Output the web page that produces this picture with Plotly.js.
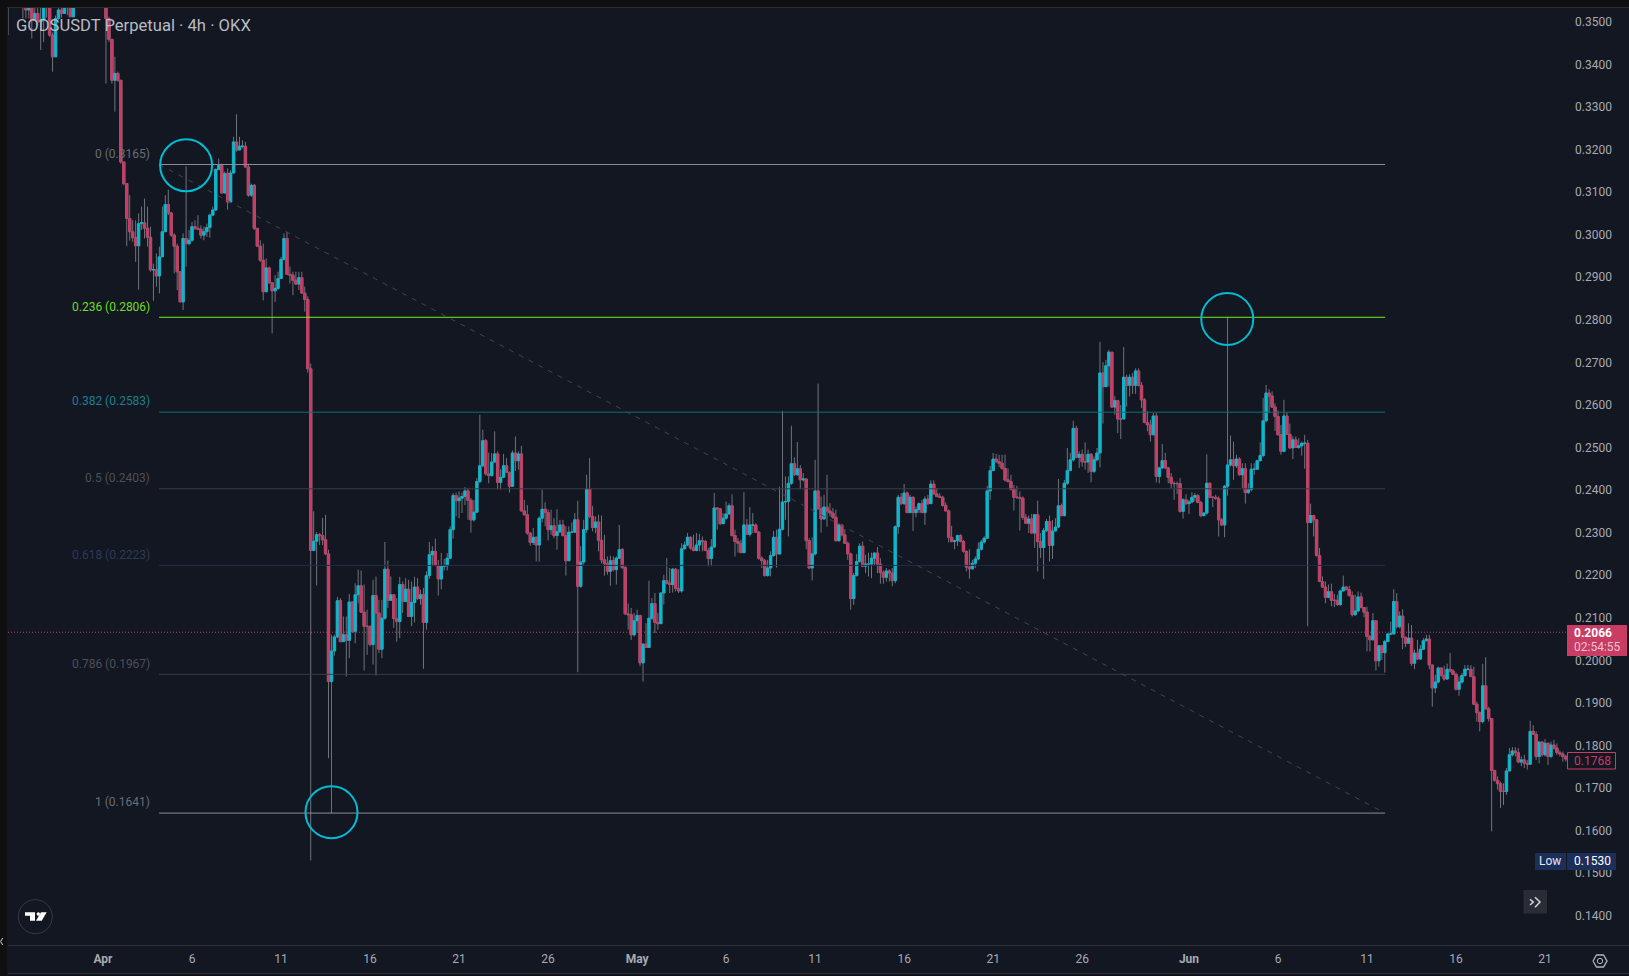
<!DOCTYPE html>
<html><head><meta charset="utf-8">
<script src="https://cdn.plot.ly/plotly-3.0.1.min.js"></script>
<style>html,body{margin:0;padding:0;background:#0f0f0f;overflow:hidden}#chart{width:1629px;height:976px}</style>
</head><body><div id="chart"></div>
<script>
// Candle numbers: 0 = 1 April 00:00, one candle every 4 hours
const firstCandle = -32;
const firstOpen = .3590;
const closes = [
.3600,.3650,.3660,.3640,.3600,.3560,.3528,.3545,.3504,.3520,.3500,.3504,.3560,.3545,.3469,.3418,.3508,.3528,.3520,.3560,.3570,.3512,.3600,
.3640,.3660,.3680,.3700,.3720,.3740,.3730,.3700,.3680,.3640,
.3508,.3459,.3363,.3379,.3363,.3171,.3120,.3038,.3007,.2993,.2974,.3026,.3028,.3015,.2994,.2917,.2918,.2903,.2948,.3007,
.3071,.3051,.2999,.2973,.2913,.2842,.2991,.2979,.2987,.3019,.3015,.3013,.2999,.3007,.3017,.3046,.3058,.3153,.3163,.3098,
.3144,.3077,.3145,.3218,.3199,.3208,.3208,.3159,.3093,.3116,.3015,.2973,.2940,.2866,.2922,.2887,.2868,.2874,.2897,.2942,
.2991,.2907,.2905,.2893,.2884,.2899,.2863,.2848,.2685,
.2258,.2280,.2295,.2293,.2283,.2250,.1950,.2022,.2055,.2140,.2044,.2060,.2047,.2137,.2068,.2154,.2175,.2113,.2080,.2080,
.2037,.2152,.2111,.2026,.2099,.2214,.2141,.2154,.2098,.2091,.2178,.2138,.2167,.2103,.2136,.2172,.2145,.2154,.2089,.2199,
.2248,.2256,.2223,.2191,.2221,.2222,.2240,.2307,.2387,.2375,.2381,.2385,.2398,.2376,.2330,.2348,.2420,.2457,.2516,.2438,
.2434,.2466,.2485,.2418,.2430,.2457,.2441,.2409,.2487,.2469,.2485,.2351,.2342,.2299,.2277,.2289,.2271,.2334,.2355,.2347,
.2307,.2316,.2293,.2302,.2318,.2293,.2234,.2301,.2301,.2330,.2174,.2231,.2307,.2402,.2338,.2312,.2325,.2282,.2236,.2227,
.2209,.2234,.2213,.2240,.2260,.2218,.2109,.2107,.2060,.2093,.2105,.1994,.2038,.2030,.2099,.2133,.2089,.2086,.2158,.2187,
.2181,.2178,.2214,.2169,.2163,.2262,.2271,.2289,.2264,.2258,.2271,
.2281,.2279,.2258,.2239,.2266,.2358,.2356,.2321,.2334,.2344,.2363,.2293,.2279,.2275,.2253,.2318,.2296,.2318,.2318,.2301,
.2240,.2234,.2199,.2217,.2246,.2289,.2250,.2308,.2372,.2373,.2416,.2462,.2436,.2450,.2424,.2426,.2281,.2217,.2250,.2398,
.2356,.2332,.2360,.2351,.2346,.2336,.2281,.2318,.2295,.2275,.2250,.2145,.2199,.2232,.2268,.2221,.2226,.2226,.2240,.2252,
.2226,.2206,.2195,.2210,.2205,.2187,.2314,.2383,.2368,.2393,.2347,.2383,.2347,.2354,.2368,.2347,.2379,.2368,.2414,.2391,
.2385,.2383,.2364,.2351,.2289,.2279,.2281,.2293,.2279,.2256,.2219,.2215,.2228,.2238,.2261,.2278,.2287,.2398,.2446,.2473,
.2467,.2463,.2451,.2424,.2420,.2402,.2383,.2383,.2381,.2336,.2322,.2332,.2299,.2342,.2279,.2265,.2305,.2326,.2270,.2304,
.2313,.2363,.2340,.2416,.2446,.2471,.2545,.2477,.2484,.2466,.2466,.2484,.2444,.2471,.2487,
.2675,.2643,.2692,.2724,.2595,.2610,.2567,.2567,.2665,.2646,.2665,.2646,.2680,.2646,.2612,.2559,.2553,.2530,.2574,.2432,
.2452,.2469,.2452,.2430,.2416,.2415,.2415,.2350,.2377,.2368,.2372,.2383,.2387,.2371,.2340,.2346,.2416,.2383,.2383,.2380,
.2330,.2318,.2409,.2459,.2471,.2457,.2473,.2436,.2450,.2394,.2401,.2449,.2449,.2469,.2481,.2563,.2628,.2621,.2595,.2573,
.2530,.2491,.2574,.2531,.2499,.2518,.2500,.2504,.2510,.2510,.2324,.2340,.2330,.2246,.2185,.2172,.2148,.2161,.2141,.2141,
.2131,.2163,.2172,.2166,.2152,.2107,.2116,.2149,
.2124,.2113,.2056,.2048,.2093,.1999,.2034,.2018,.2044,.2062,.2062,.2138,.2079,.2104,.2054,.2040,.2052,.1993,.2017,.2003,
.2026,.2046,.2050,.1989,.1935,.1949,.1982,.1964,.1956,.1979,.1975,.1967,.1932,.1949,.1964,.1979,.1979,.1962,.1897,.1877,
.1856,.1940,.1886,.1863,.1741,.1718,.1710,.1692,.1692,.1740,.1778,.1787,.1783,.1761,.1766,.1758,.1756,.1833,.1826,.1774,
.1808,.1778,.1805,.1774,.1801,.1794,.1783,.1780,.1774,.1768
];
const highs = [
.3680,.3700,.3720,.3700,.3660,.3620,.3590,.3590,.3560,.3560,.3540,.3540,.3600,.3600,.3560,.3475,.3515,.3560,.3560,.3600,.3610,.3600,.3640,
.3680,.3700,.3720,.3750,.3770,.3790,.3780,.3760,.3730,.3700,
.3650,.3512,.3459,.3418,.3383,.3363,.3171,.3120,.3093,.3034,.3034,.3050,.3066,.3085,.3066,.3019,.2932,.2956,.2972,.3066,
.3093,.3106,.3054,.3003,.2979,.2913,.3003,.3161,.3011,.3030,.3034,.3046,.3022,.3019,.3026,.3050,.3066,.3156,.3179,.3167,
.3148,.3156,.3152,.3230,.3283,.3230,.3222,.3218,.3167,.3120,.3119,.3015,.2987,.2979,.2944,.2925,.2889,.2905,.2913,.2948,
.3003,.3007,.2925,.2913,.2913,.2913,.2913,.2878,.2855,
.2697,.2350,.2301,.2299,.2334,.2342,.2260,.2060,.2060,.2149,.2146,.2103,.2103,.2156,.2138,.2181,.2213,.2211,.2178,.2119,
.2081,.2189,.2197,.2142,.2142,.2278,.2234,.2197,.2154,.2146,.2196,.2185,.2193,.2189,.2185,.2196,.2193,.2166,.2170,.2209,
.2278,.2268,.2286,.2236,.2252,.2238,.2252,.2315,.2393,.2394,.2397,.2394,.2407,.2405,.2381,.2377,.2428,.2577,.2542,.2520,
.2488,.2487,.2538,.2491,.2449,.2485,.2475,.2444,.2493,.2526,.2491,.2504,.2377,.2365,.2301,.2311,.2291,.2338,.2401,.2371,
.2355,.2354,.2334,.2355,.2330,.2330,.2315,.2315,.2324,.2346,.2375,.2268,.2330,.2436,.2475,.2363,.2338,.2342,.2340,.2295,
.2244,.2246,.2244,.2244,.2318,.2264,.2224,.2133,.2123,.2111,.2119,.2107,.2040,.2087,.2187,.2146,.2158,.2111,.2160,.2201,
.2240,.2217,.2217,.2217,.2214,.2275,.2279,.2299,.2291,.2295,.2299,
.2297,.2291,.2283,.2264,.2285,.2393,.2360,.2358,.2346,.2373,.2369,.2390,.2307,.2287,.2283,.2395,.2332,.2360,.2346,.2322,
.2304,.2244,.2238,.2236,.2256,.2304,.2307,.2408,.2586,.2432,.2432,.2551,.2477,.2513,.2459,.2440,.2428,.2287,.2289,.2471,
.2650,.2385,.2389,.2436,.2369,.2358,.2354,.2322,.2318,.2308,.2279,.2253,.2205,.2250,.2275,.2279,.2248,.2253,.2253,.2253,
.2266,.2240,.2211,.2217,.2214,.2217,.2317,.2389,.2393,.2414,.2397,.2389,.2385,.2361,.2371,.2377,.2385,.2389,.2423,.2423,
.2405,.2393,.2387,.2371,.2354,.2316,.2283,.2295,.2296,.2283,.2258,.2261,.2236,.2244,.2277,.2283,.2291,.2410,.2457,.2487,
.2485,.2483,.2483,.2483,.2451,.2436,.2412,.2410,.2397,.2385,.2344,.2340,.2344,.2344,.2375,.2299,.2311,.2332,.2340,.2330,
.2334,.2426,.2368,.2424,.2499,.2487,.2563,.2551,.2491,.2495,.2512,.2495,.2487,.2479,.2499,
.2748,.2701,.2706,.2730,.2724,.2621,.2612,.2600,.2736,.2671,.2672,.2675,.2686,.2686,.2654,.2616,.2585,.2565,.2581,.2581,
.2455,.2508,.2487,.2454,.2440,.2420,.2420,.2428,.2381,.2390,.2377,.2395,.2393,.2391,.2375,.2347,.2484,.2418,.2385,.2389,
.2385,.2334,.2412,.2806,.2528,.2514,.2483,.2477,.2463,.2463,.2416,.2463,.2463,.2471,.2512,.2616,.2647,.2637,.2632,.2604,
.2587,.2553,.2612,.2582,.2556,.2526,.2526,.2522,.2514,.2530,.2518,.2368,.2342,.2332,.2264,.2197,.2185,.2178,.2180,.2156,
.2154,.2166,.2199,.2175,.2175,.2162,.2154,.2162,
.2159,.2124,.2126,.2060,.2111,.2095,.2036,.2036,.2048,.2064,.2091,.2167,.2158,.2115,.2120,.2056,.2087,.2083,.2025,.2048,
.2036,.2052,.2060,.2060,.1989,.1966,.1985,.1982,.1987,.1992,.2017,.1979,.1971,.1962,.1970,.1989,.1989,.1989,.1985,.1903,
.1880,.1992,.2007,.1891,.1864,.1743,.1727,.1715,.1711,.1747,.1794,.1796,.1796,.1794,.1774,.1778,.1766,.1858,.1848,.1833,
.1809,.1809,.1815,.1807,.1809,.1813,.1805,.1788,.1786,.1778
];
const lows = [
.3469,.3590,.3620,.3590,.3555,.3508,.3508,.3508,.3461,.3504,.3492,.3434,.3453,.3510,.3465,.3383,.3418,.3505,.3510,.3520,.3516,.3512,.3512,
.3590,.3620,.3640,.3660,.3680,.3700,.3690,.3660,.3640,.3600,
.3355,.3453,.3355,.3289,.3359,.3167,.3116,.2973,.2986,.2983,.2936,.2871,.3011,.2991,.2972,.2913,.2845,.2878,.2862,.3003,
.3062,.3046,.2995,.2909,.2870,.2842,.2823,.2925,.2975,.2983,.3011,.3011,.2991,.2987,.2995,.2993,.3046,.3056,.3152,.3097,
.3097,.3059,.3075,.3144,.3195,.3199,.3203,.3158,.3089,.3089,.3011,.2972,.2936,.2846,.2866,.2885,.2768,.2842,.2870,.2897,
.2940,.2905,.2885,.2858,.2882,.2870,.2862,.2819,.2676,
.1530,.2258,.2176,.2271,.2271,.2248,.1770,.1641,.2011,.2052,.2042,.2044,.1962,.2005,.2064,.2040,.2134,.2111,.1976,.2013,
.2033,.1990,.1964,.2017,.2005,.2095,.2123,.2142,.2076,.2044,.2052,.2111,.2138,.2102,.2080,.2089,.2142,.2131,.1980,.2072,
.2191,.2221,.2221,.2152,.2167,.2211,.2211,.2238,.2286,.2338,.2334,.2346,.2365,.2330,.2300,.2326,.2346,.2416,.2454,.2434,
.2416,.2432,.2463,.2402,.2401,.2428,.2440,.2394,.2407,.2445,.2448,.2350,.2340,.2295,.2269,.2271,.2232,.2232,.2324,.2315,
.2282,.2295,.2287,.2260,.2299,.2291,.2199,.2236,.2299,.2299,.1972,.2170,.2225,.2299,.2334,.2303,.2299,.2256,.2228,.2199,
.2201,.2175,.2209,.2178,.2238,.2214,.2107,.2072,.2048,.2056,.2064,.1986,.1950,.2029,.2030,.2095,.2064,.2072,.2087,.2131,
.2178,.2158,.2159,.2162,.2158,.2159,.2260,.2268,.2260,.2256,.2256,
.2256,.2256,.2256,.2221,.2221,.2264,.2307,.2318,.2321,.2330,.2342,.2291,.2244,.2253,.2252,.2252,.2295,.2291,.2299,.2299,
.2236,.2217,.2197,.2197,.2197,.2244,.2218,.2248,.2305,.2330,.2291,.2412,.2433,.2434,.2402,.2420,.2261,.2214,.2188,.2246,
.2354,.2300,.2332,.2314,.2338,.2332,.2279,.2279,.2291,.2274,.2236,.2119,.2130,.2197,.2230,.2219,.2205,.2197,.2193,.2224,
.2205,.2180,.2180,.2185,.2185,.2174,.2181,.2297,.2365,.2365,.2346,.2346,.2304,.2336,.2346,.2346,.2318,.2365,.2368,.2389,
.2383,.2381,.2361,.2350,.2277,.2277,.2261,.2269,.2277,.2253,.2209,.2192,.2213,.2217,.2235,.2258,.2274,.2285,.2377,.2444,
.2463,.2454,.2448,.2420,.2418,.2399,.2352,.2379,.2305,.2330,.2321,.2299,.2297,.2264,.2209,.2240,.2191,.2301,.2232,.2238,
.2303,.2311,.2338,.2338,.2412,.2444,.2467,.2475,.2452,.2455,.2448,.2440,.2418,.2440,.2467,
.2453,.2556,.2642,.2643,.2593,.2577,.2534,.2520,.2567,.2596,.2620,.2626,.2626,.2643,.2593,.2557,.2538,.2514,.2528,.2418,
.2416,.2450,.2450,.2416,.2405,.2377,.2391,.2347,.2333,.2365,.2344,.2369,.2373,.2369,.2336,.2338,.2342,.2381,.2360,.2377,
.2291,.2316,.2289,.2387,.2455,.2424,.2452,.2434,.2405,.2368,.2391,.2397,.2436,.2448,.2467,.2477,.2559,.2581,.2593,.2539,
.2528,.2483,.2489,.2530,.2497,.2473,.2499,.2497,.2481,.2450,.2080,.2322,.2291,.2244,.2184,.2170,.2134,.2146,.2127,.2125,
.2128,.2128,.2162,.2164,.2150,.2103,.2105,.2113,
.2122,.2101,.2021,.2021,.2048,.1976,.1985,.2001,.1971,.2043,.2060,.2060,.2075,.2075,.2026,.2031,.2039,.1987,.1979,.2001,
.2001,.2025,.2044,.1979,.1891,.1923,.1945,.1962,.1952,.1954,.1971,.1966,.1929,.1917,.1945,.1962,.1976,.1960,.1895,.1856,
.1833,.1852,.1884,.1856,.1598,.1715,.1696,.1653,.1660,.1684,.1739,.1774,.1774,.1758,.1751,.1747,.1743,.1754,.1825,.1766,
.1758,.1774,.1774,.1754,.1770,.1790,.1778,.1774,.1762,.1762
];
const tickCandles = [0,30,60,90,120,150,180,210,240,270,300,330,366,396,426,456,486];
const tickLabels = ['<b>Apr</b>','6','11','16','21','26','<b>May</b>','6','11','16','21','26','<b>Jun</b>','6','11','16','21'];
const priceTicks = [.14,.15,.16,.17,.18,.19,.20,.21,.22,.23,.24,.25,.26,.27,.28,.29,.30,.31,.32,.33,.34,.35];
const fibLevels = [.3165,.2806,.2583,.2403,.2223,.1967,.1641];
const fibLabels = ['0 (0.3165)','0.236 (0.2806)','0.382 (0.2583)','0.5 (0.2403)','0.618 (0.2223)','0.786 (0.1967)','1 (0.1641)'];
const fibLine = ['#8b8e96','#76ee22','#0b6e78','#3b3e46','#1f2d4a','#3b3e46','#8b8e96'];
const fibText = ['#696c75','#6fdc26','#1f7f8c','#4c4f57','#2e3b55','#4c4f57','#696c75'];
const fibStart = 18.9, fibEnd = 432.1;
const circleCandles = [28,378.9,77];
const circlePrices = [.3163,.2802,.1643];
const lastPrice = .2066, lastClose = .1768, lowPrice = .1530;

const UP = '#00bcd4', DOWN = '#c93c64', WICK = '#70737c', BG = '#131722', EDGE = '#0f0f0f', LINE = '#2a2e39';
const px = x => (x - 8) / 1559, py = y => (946 - y) / 938;
const candles = closes.map((_, i) => firstCandle + i);
const opens = closes.map((_, i) => i ? closes[i - 1] : firstOpen);
const bodyHigh = closes.map((c, i) => Math.max(c, opens[i]));
const bodyLow = closes.map((c, i) => Math.min(c, opens[i]));

const wickTrace = {type:'candlestick', x:candles, open:opens, high:highs, low:lows, close:closes,
  increasing:{line:{color:WICK,width:1},fillcolor:WICK}, decreasing:{line:{color:WICK,width:1},fillcolor:WICK},
  hoverinfo:'skip', showlegend:false};
const bodyTrace = {type:'candlestick', x:candles, open:opens, high:bodyHigh, low:bodyLow, close:closes,
  increasing:{line:{color:UP,width:.6},fillcolor:UP}, decreasing:{line:{color:DOWN,width:.6},fillcolor:DOWN},
  hoverinfo:'skip', showlegend:false};

const rectP = (x0,y0,x1,y1,fill,stroke) => ({type:'rect',xref:'paper',yref:'paper',x0:px(x0),x1:px(x1),y0:py(y0),y1:py(y1),
  fillcolor:fill,line:{color:stroke||fill,width:stroke?1:0},layer:'above'});
const lineP = (pts,color,w) => ({type:'path',xref:'paper',yref:'paper',layer:'above',line:{color:color,width:w||1},
  path:pts.map((p,i)=>(i?'L':'M')+px(p[0])+' '+py(p[1])).join(' ')});
const polyP = (pts,fill) => ({type:'path',xref:'paper',yref:'paper',layer:'above',fillcolor:fill,line:{width:0},
  path:pts.map((p,i)=>(i?'L':'M')+px(p[0])+' '+py(p[1])).join(' ')+' Z'});
const circP = (cx,cy,r,stroke,fill) => ({type:'circle',xref:'paper',yref:'paper',layer:'above',x0:px(cx-r),x1:px(cx+r),y0:py(cy-r),y1:py(cy+r),
  line:{color:stroke,width:stroke==='rgba(0,0,0,0)'?0:1},fillcolor:fill||'rgba(0,0,0,0)'});

const shapes = [];
fibLevels.forEach((lv,i)=>shapes.push({type:'line',xref:'x',yref:'y',x0:fibStart,x1:fibEnd,y0:lv,y1:lv,line:{color:fibLine[i],width:1},layer:'above'}));
shapes.push({type:'line',xref:'x',yref:'y',x0:fibStart,x1:fibEnd,y0:fibLevels[0],y1:fibLevels[6],line:{color:'#42454f',width:1,dash:'5px,6px'},layer:'above'});
shapes.push({type:'line',xref:'paper',yref:'y',x0:0,x1:1,y0:lastPrice,y1:lastPrice,line:{color:DOWN,width:1,dash:'1px,2px'},layer:'below'});
circleCandles.forEach((c,i)=>shapes.push({type:'circle',xref:'x',yref:'y',xsizemode:'pixel',ysizemode:'pixel',xanchor:c,yanchor:circlePrices[i],x0:-26,x1:26,y0:-26,y1:26,line:{color:UP,width:2},layer:'above'}));
shapes.push(rectP(0,0,1629,7,EDGE), rectP(0,0,7,976,EDGE), rectP(0,975,1629,976,EDGE));
shapes.push(lineP([[7,7.5],[1629,7.5]],'#2b2b2b'), lineP([[8,945.5],[1629,945.5]],LINE), lineP([[8,973.5],[1629,973.5]],LINE));
shapes.push(lineP([[2.7,938],[0.6,941.5],[2.7,945]],'#d1d4dc'));
shapes.push(rectP(1567,625,1627,656,DOWN));
shapes.push(rectP(1567.5,752.5,1615.5,769,BG,DOWN));
shapes.push(rectP(1535,853,1566,870,'#1c2e5a'), rectP(1567,853,1616,870,'#1c2e5a'));
shapes.push(rectP(1523.5,890,1547,913.5,'#2a2d35'));
shapes.push(lineP([[1530,899.3],[1533.3,902],[1530,905]],'#d1d4dc',1.5), lineP([[1535,897.3],[1540,902],[1535,907.3]],'#d1d4dc',1.5));
shapes.push(lineP([[1593,961],[1596.5,955],[1603.5,955],[1607,961],[1603.5,967],[1596.5,967],[1593,961]],'#b2b5be',1.3), circP(1600,961,2.7,'#b2b5be'));
shapes.push(circP(35.3,916.7,17,'#363a45'));
shapes.push(polyP([[25,912.3],[35,912.3],[35,920.7],[30,920.7],[30,915.7],[25,915.7]],'#ffffff'), circP(38.3,914,1.7,'rgba(0,0,0,0)','#ffffff'), polyP([[46.7,912.3],[41.7,920.7],[36,920.7],[41,912.3]],'#ffffff'));

const ann = (x,y,text,size,color,anchor,extra) => Object.assign({xref:'paper',yref:'paper',x:px(x),y:py(y),text,showarrow:false,xanchor:anchor||'center',yanchor:'middle',
  font:{family:'Roboto, Arial, sans-serif',size,color},borderpad:0},extra||{});
const annotations = [];
fibLabels.forEach((t,i)=>annotations.push({xref:'paper',yref:'y',x:px(151),y:fibLevels[i],yshift:10.7,text:t,showarrow:false,xanchor:'right',yanchor:'middle',
  font:{family:'Roboto, Arial, sans-serif',size:12,color:fibText[i]},borderpad:0}));
annotations.push(ann(15,25.5,'GODSUSDT Perpetual · 4h · OKX',16.6,'#b8bbc4','left'));
annotations.push(ann(1592.5,633,'<b>'+lastPrice.toFixed(4)+'</b>',12,'#ffffff'));
annotations.push(ann(1597,647,'02:54:55',12,'#e8c2cf'));
annotations.push(ann(1592,760.5,lastClose.toFixed(4),12,DOWN));
annotations.push(ann(1550,861,'Low',12,'#e6e8ee'));
annotations.push(ann(1592,861,lowPrice.toFixed(4),12,'#ffffff'));

Plotly.newPlot('chart',[wickTrace,bodyTrace],{
  width:1629,height:976,autosize:false,
  margin:{l:8,r:62,t:8,b:30,pad:0},
  paper_bgcolor:BG,plot_bgcolor:BG,
  showlegend:false,boxmode:'overlay',boxgap:.2,boxgroupgap:0,hovermode:false,dragmode:false,
  font:{family:'Roboto, Arial, sans-serif',size:12,color:'#a7aab3'},
  xaxis:{range:[-32.02,493.4],tickmode:'array',tickvals:tickCandles,ticktext:tickLabels,showgrid:false,zeroline:false,showline:false,
    rangeslider:{visible:false},ticks:'',ticklabelstandoff:4,tickfont:{family:'Roboto, Arial, sans-serif',size:12,color:'#a7aab3'}},
  yaxis:{side:'right',range:[.13287,.35327],tickmode:'array',tickvals:priceTicks,tickformat:'.4f',showgrid:false,zeroline:false,showline:false,
    ticks:'',ticklabelstandoff:7,tickfont:{family:'Roboto, Arial, sans-serif',size:12,color:'#a7aab3'}},
  shapes,annotations
},{staticPlot:true,displayModeBar:false});
</script></body></html>
